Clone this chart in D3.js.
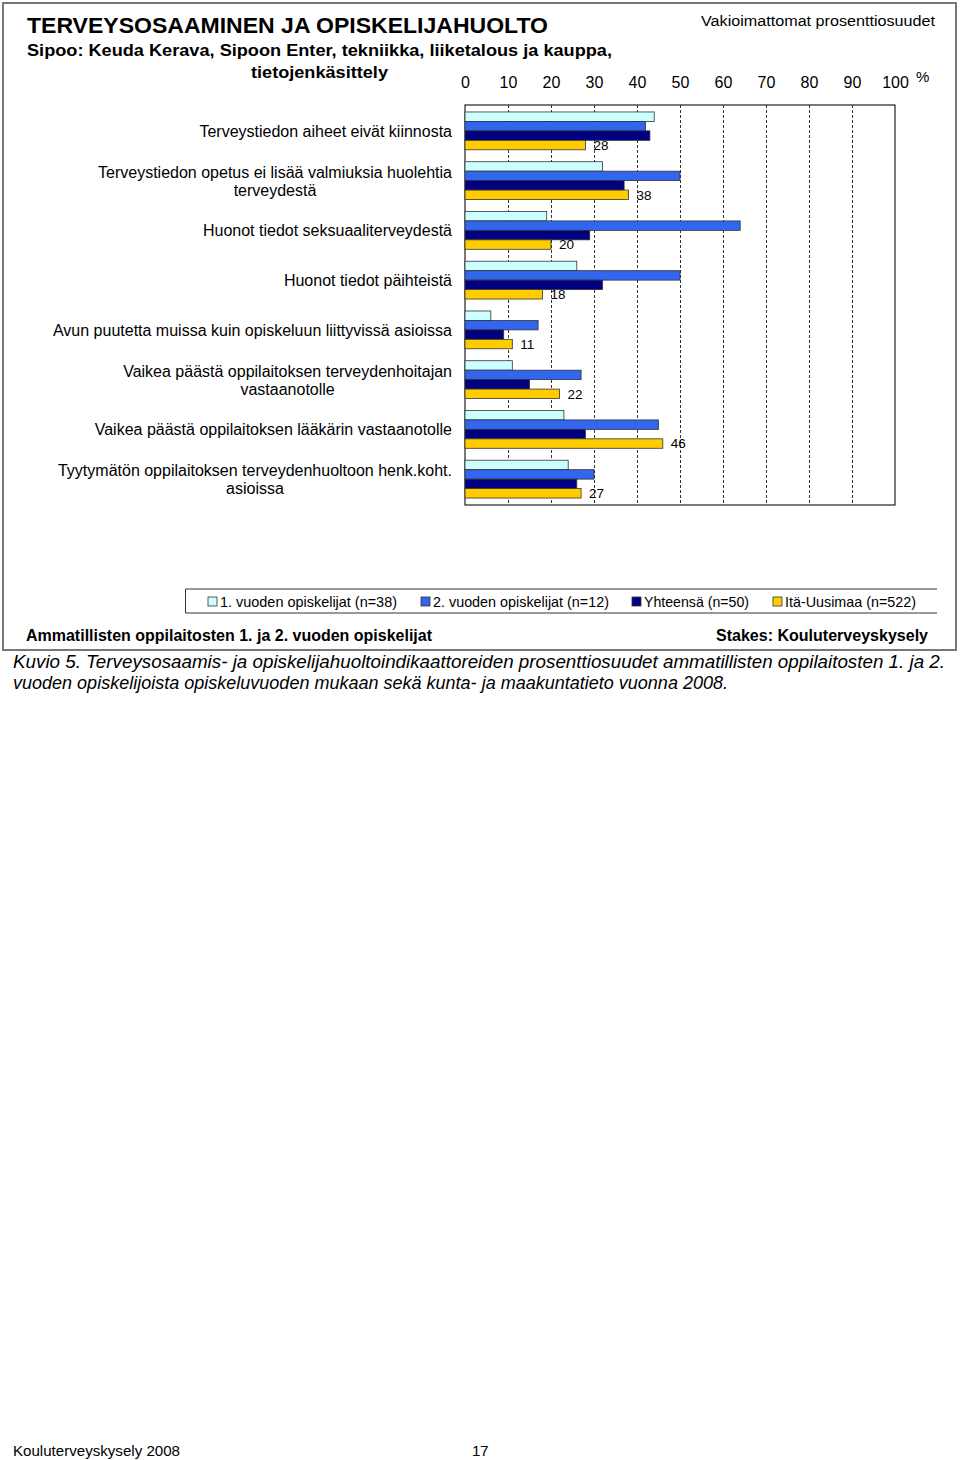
<!DOCTYPE html>
<html>
<head>
<meta charset="utf-8">
<script src="https://cdn.jsdelivr.net/npm/d3@7"></script>
<style>
  html, body { margin: 0; padding: 0; background: #fff; }
  svg { display: block; }
  text { font-family: "Liberation Sans", Arial, sans-serif; fill: #000; }
</style>
</head>
<body>
<svg id="chart" width="960" height="1460"></svg>
<script>
// ---------- data ----------
const categories = [
  ["Terveystiedon aiheet eivät kiinnosta"],
  ["Terveystiedon opetus ei lisää valmiuksia huolehtia", "terveydestä"],
  ["Huonot tiedot seksuaaliterveydestä"],
  ["Huonot tiedot päihteistä"],
  ["Avun puutetta muissa kuin opiskeluun liittyvissä asioissa"],
  ["Vaikea päästä oppilaitoksen terveydenhoitajan", "vastaanotolle"],
  ["Vaikea päästä oppilaitoksen lääkärin vastaanotolle"],
  ["Tyytymätön oppilaitoksen terveydenhuoltoon henk.koht.", "asioissa"]
];
const seriesNames = ["1. vuoden opiskelijat (n=38)", "2. vuoden opiskelijat (n=12)", "Yhteensä (n=50)", "Itä-Uusimaa (n=522)"];
const firstYear  = [44, 32, 19, 26, 6, 11, 23, 24];
const secondYear = [42, 50, 64, 50, 17, 27, 45, 30];
const total      = [43, 37, 29, 32, 9, 15, 28, 26];
const region     = [28, 38, 20, 18, 11, 22, 46, 27];
const tickValues = [0, 10, 20, 30, 40, 50, 60, 70, 80, 90, 100];

const seriesValues = [firstYear, secondYear, total, region];
const colors = ["#CCFFFF", "#3366EE", "#000080", "#FFCC00"];

const svg = d3.select("#chart");

function fit(sel, w, adj) {
  sel.attr("textLength", w).attr("lengthAdjust", adj || "spacingAndGlyphs");
}

// ---------- frame ----------
svg.append("rect").attr("x", 3).attr("y", 3).attr("width", 953).attr("height", 647)
  .attr("fill", "none").attr("stroke", "#777").attr("stroke-width", 2);

// ---------- titles ----------
svg.append("text").attr("x", 27).attr("y", 33).attr("font-size", 22.5).attr("font-weight", "bold")
  .text("TERVEYSOSAAMINEN JA OPISKELIJAHUOLTO").call(fit, 521);
svg.append("text").attr("x", 319.5).attr("y", 56).attr("font-size", 16.5).attr("font-weight", "bold")
  .attr("text-anchor", "middle")
  .text("Sipoo: Keuda Kerava, Sipoon Enter, tekniikka, liiketalous ja kauppa,").call(fit, 585);
svg.append("text").attr("x", 319.5).attr("y", 78).attr("font-size", 16.5).attr("font-weight", "bold")
  .attr("text-anchor", "middle").text("tietojenkäsittely").call(fit, 137);
svg.append("text").attr("x", 935).attr("y", 26).attr("font-size", 15.5).attr("text-anchor", "end")
  .text("Vakioimattomat prosenttiosuudet").call(fit, 234);

// ---------- scales ----------
const x = d3.scaleLinear().domain([0, 100]).range([465, 895]);
const y = d3.scaleBand().domain(d3.range(categories.length)).range([105, 505])
  .paddingInner(0.24).paddingOuter(0.14);
const ys = d3.scaleBand().domain(d3.range(4)).range([0, y.bandwidth()]);

// top tick labels
const ax = svg.append("g").attr("transform", "translate(0,88)")
  .call(d3.axisTop(x).tickValues(tickValues).tickSize(0).tickPadding(0).tickFormat(d3.format("d")));
ax.select(".domain").remove();
ax.selectAll("text").attr("font-size", 16).attr("font-family", "Liberation Sans, Arial, sans-serif")
  .attr("fill", "#000").attr("dy", 0).attr("y", 0);
svg.append("text").attr("x", 916).attr("y", 82).attr("font-size", 15).text("%");

// grid lines
const grid = svg.append("g").attr("transform", "translate(0,105)")
  .call(d3.axisBottom(x).tickValues(tickValues.slice(1, -1)).tickSize(400).tickFormat(""));
grid.select(".domain").remove();
grid.selectAll("line").attr("stroke", "#333").attr("stroke-width", 1).attr("stroke-dasharray", "3,2");

// plot border
svg.append("rect").attr("x", x(0)).attr("y", 105).attr("width", x(100) - x(0)).attr("height", 400)
  .attr("fill", "none").attr("stroke", "#222").attr("stroke-width", 1.2);

// bars
const groups = svg.append("g").selectAll("g").data(categories).join("g")
  .attr("transform", (d, i) => `translate(0,${y(i)})`);
groups.each(function(d, i) {
  const g = d3.select(this);
  g.selectAll("rect").data(seriesValues.map((s, k) => ({k, v: s[i]}))).join("rect")
    .attr("x", x(0)).attr("y", e => ys(e.k)).attr("height", ys.bandwidth())
    .attr("width", e => x(e.v) - x(0))
    .attr("fill", e => colors[e.k]).attr("stroke", "#333").attr("stroke-width", 0.8);
  g.append("text").attr("x", x(region[i]) + 8).attr("y", ys(3) + ys.bandwidth())
    .attr("font-size", 13.5).text(region[i]);
});

// category labels
categories.forEach((lines, i) => {
  const cy = y(i) + y.bandwidth() / 2;
  const n = lines.length;
  const t = svg.append("text").attr("font-size", 16).attr("text-anchor", "end");
  const first = t.append("tspan").attr("x", 452).attr("y", cy + 6 - (n - 1) * 9).text(lines[0]);
  if (n > 1) {
    const w = first.node().getComputedTextLength();
    t.append("tspan").attr("x", 452 - w / 2).attr("text-anchor", "middle")
      .attr("y", cy + 6 + 9).text(lines[1]);
  }
});

// legend
const lg = svg.append("g");
lg.append("path").attr("d", "M937,589H185.5V613H937").attr("fill", "none").attr("stroke", "#333").attr("stroke-width", 1);
const legendX = [208, 421, 632, 773];
const legendW = [177, 176, 105, 131];
seriesNames.forEach((name, k) => {
  lg.append("rect").attr("x", legendX[k]).attr("y", 597).attr("width", 9).attr("height", 9)
    .attr("fill", colors[k]).attr("stroke", "#333").attr("stroke-width", 0.8);
  lg.append("text").attr("x", legendX[k] + 12).attr("y", 607).attr("font-size", 14.5).text(name)
    .call(fit, legendW[k]);
});

// footer inside frame
svg.append("text").attr("x", 26).attr("y", 641).attr("font-size", 16).attr("font-weight", "bold")
  .text("Ammatillisten oppilaitosten 1. ja 2. vuoden opiskelijat").call(fit, 406);
svg.append("text").attr("x", 928).attr("y", 641).attr("font-size", 16).attr("font-weight", "bold")
  .attr("text-anchor", "end").text("Stakes: Kouluterveyskysely").call(fit, 212);

// caption
svg.append("text").attr("x", 13).attr("y", 668).attr("font-size", 17.5).attr("font-style", "italic")
  .text("Kuvio 5. Terveysosaamis- ja opiskelijahuoltoindikaattoreiden prosenttiosuudet ammatillisten oppilaitosten 1. ja 2.")
  .call(fit, 932);
svg.append("text").attr("x", 13).attr("y", 689).attr("font-size", 17.5).attr("font-style", "italic")
  .text("vuoden opiskelijoista opiskeluvuoden mukaan sekä kunta- ja maakuntatieto vuonna 2008.")
  .call(fit, 715);

// page footer
svg.append("text").attr("x", 13).attr("y", 1456).attr("font-size", 15).text("Kouluterveyskysely 2008").call(fit, 167);
svg.append("text").attr("x", 472).attr("y", 1456).attr("font-size", 15).text("17");
</script>
</body>
</html>
